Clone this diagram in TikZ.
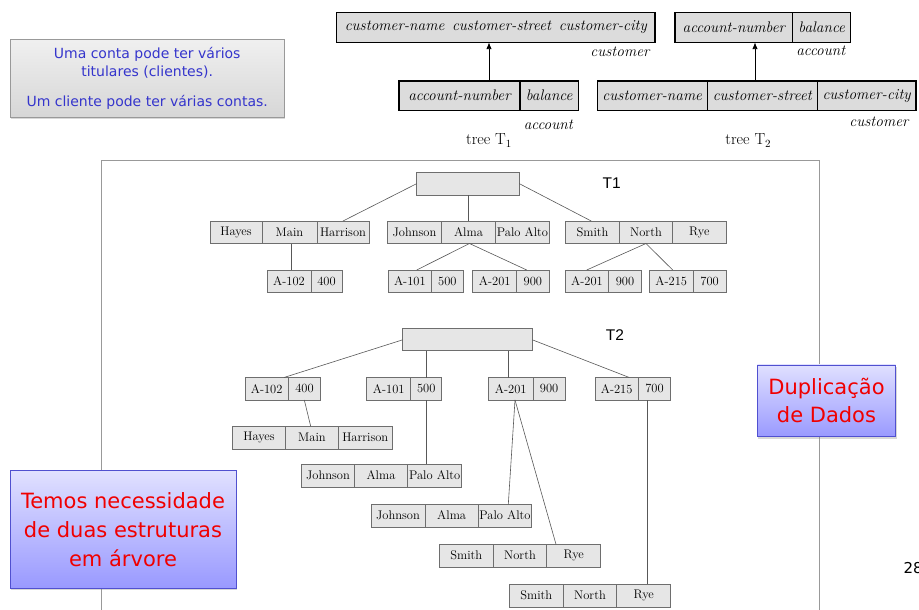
\documentclass[tikz,border=0pt]{standalone}
\usepackage{fontspec}
\newfontfamily\dvs{DejaVu Sans}
\newfontfamily\lsans{Liberation Sans}
\usetikzlibrary{shadows,arrows.meta,calc}
\definecolor{cellfill}{HTML}{E6E6E6}
\definecolor{cellline}{HTML}{6E6E6E}
\definecolor{schfill}{HTML}{DCDCDC}
\definecolor{edgecol}{HTML}{585858}
\definecolor{framecol}{HTML}{999999}
\definecolor{bluetxt}{HTML}{3535CC}
\definecolor{redtxt}{HTML}{F00000}
\definecolor{bluebord}{HTML}{5050D0}
\tikzset{
  tcell/.style={draw=cellline, fill=cellfill, line width=0.6pt, minimum height=22.5pt,
    inner sep=0pt, outer sep=0pt, font=\fontsize{12.5}{14}\selectfont},
  scell/.style={draw=black, fill=schfill, line width=1.1pt, minimum height=29.5pt,
    inner sep=0pt, outer sep=0pt, font=\fontsize{15.3}{18}\selectfont\itshape},
  slabel/.style={inner sep=0pt, font=\fontsize{15.3}{18}\selectfont\itshape},
  tlabel/.style={inner sep=0pt, font=\fontsize{16}{18}\selectfont},
  treelab/.style={inner sep=0pt, font=\lsans\fontsize{15.5}{18}\selectfont},
  tedge/.style={draw=edgecol, line width=0.6pt},
  schemaarrow/.style={line width=0.9pt, -{Latex[length=7pt,width=5.5pt]}},
  notebox/.style={draw=framecol, line width=0.8pt, top color=gray!12, bottom color=gray!32,
    drop shadow={opacity=0.3, shadow xshift=1pt, shadow yshift=-2pt},
    align=center, text=bluetxt, inner sep=0pt},
  alertbox/.style={draw=bluebord, line width=0.8pt, top color=blue!12, bottom color=blue!40,
    drop shadow={opacity=0.3, shadow xshift=1pt, shadow yshift=-2pt},
    align=center, text=redtxt, inner sep=0pt},
}
\newcommand\mkcells[5]{%
  \foreach [count=\i] \w/\txt in {#5} {
    \ifnum\i=1
      \node[#4, minimum width=\w pt, anchor=north west] (#1-\i) at (#2,#3) {\txt};
    \else
      \pgfmathtruncatemacro\j{\i-1}
      \node[#4, minimum width=\w pt, anchor=north west] (#1-\i) at (#1-\j.north east) {\txt};
    \fi
  }}
\begin{document}
\begin{tikzpicture}[x=1pt,y=-1pt]
\useasboundingbox (0,0) rectangle (919,610);
\fill[white] (0,0) rectangle (919,610);

% frame
\draw[framecol, line width=0.8pt] (101.7,620) -- (101.7,160.7) -- (819.3,160.7) -- (819.3,620);

% note box
\node[notebox, minimum width=274.3pt, minimum height=78pt,
  font=\dvs\fontsize{14}{18.3}\selectfont] (note) at (147.2,78.3)
  {Uma conta pode ter vários\\titulares (clientes).\\[11pt]Um cliente pode ter várias contas.};

% schema tree T1
\node[scell, minimum width=318.3pt, anchor=north west] (cust1) at (336.7,12.7)
  {customer-name\hspace{0.5em}customer-street\hspace{0.5em}customer-city};
\mkcells{acc1}{399}{81}{scell}{121/account-number,58.3/balance}
\draw[schemaarrow]
  ([xshift=90pt]acc1-1.north west) -- ([xshift=90pt]acc1-1.north west |- cust1.south);
\node[slabel] (lcust1) at (620,51.7) {customer};
\node[slabel] (lacc1) at (548.3,125) {account};
\node[tlabel] (tree1) at (489,140.5) {tree T$_1$};

% schema tree T2
\mkcells{acc2}{675}{12.7}{scell}{117.7/account-number,58/balance}
\mkcells{cust2}{597.3}{81}{scell}{110/customer-name,110/customer-street,98.7/customer-city}
\draw[schemaarrow]
  ([xshift=47.7pt]cust2-2.north west) -- ([xshift=47.7pt]cust2-2.north west |- acc2-1.south);
\node[slabel] (lacc2) at (820.8,50.7) {account};
\node[slabel] (lcust2) at (879,121.7) {customer};
\node[tlabel] (tree2) at (748.3,140.5) {tree T$_2$};

% ---------- T1 ----------
\node[tcell, minimum width=102.6pt, minimum height=22.7pt, anchor=north west] (r1) at (416.7,172.3) {};
\node[treelab] (t1lab) at (611.7,183.3) {T1};
\mkcells{h1}{210}{221}{tcell}{52/Hayes,55/Main,52/Harrison}
\mkcells{j1}{387.5}{221}{tcell}{54/Johnson,54/Alma,54/Palo Alto}
\mkcells{s1}{565.7}{221}{tcell}{53.6/Smith,53.4/North,53.3/Rye}
\mkcells{a1}{267}{270}{tcell}{44/A-102,31/400}
\mkcells{b1}{388}{270}{tcell}{43.7/A-101,31.3/500}
\mkcells{c1}{472.7}{270}{tcell}{44/A-201,32.3/900}
\mkcells{d1}{565.7}{270}{tcell}{42.6/A-201,33.4/900}
\mkcells{e1}{649.3}{270}{tcell}{44/A-215,32.7/700}

\draw[tedge] (r1.west) -- ([xshift=26pt]h1-3.north west);
\draw[tedge] (r1.south) -- (r1.south |- j1-2.north);
\draw[tedge] (r1.east) -- ([xshift=25.5pt]s1-1.north west);
\draw[tedge] ([xshift=29.7pt]h1-2.south west) -- ([xshift=29.7pt]h1-2.south west |- a1-1.north);
\draw[tedge] ([xshift=1pt]j1-2.south) -- ([xshift=28.7pt]b1-1.north west);
\draw[tedge] ([xshift=1pt]j1-2.south) -- ([xshift=10pt]c1-2.north west);
\draw[tedge] (s1-2.south) -- ([xshift=21pt]d1-1.north west);
\draw[tedge] (s1-2.south) -- ([xshift=23.4pt]e1-1.north west);

% ---------- T2 ----------
\node[tcell, minimum width=129.6pt, minimum height=22.4pt, anchor=north west] (r2) at (402.7,328.3) {};
\node[treelab] (t2lab) at (615,335) {T2};
\mkcells{a2}{245}{377.5}{tcell}{43.3/A-102,32.4/400}
\mkcells{b2}{366.7}{377.5}{tcell}{44/A-101,31/500}
\mkcells{c2}{488.3}{377.5}{tcell}{45/A-201,31.7/900}
\mkcells{d2}{595}{377.5}{tcell}{43.3/A-215,32.4/700}
\mkcells{hA}{232.3}{426.3}{tcell}{53.4/Hayes,52.6/Main,54/Harrison}
\mkcells{jA}{301.7}{464.3}{tcell}{52.6/Johnson,53.4/Alma,54/Palo Alto}
\mkcells{jB}{371}{504.3}{tcell}{54/Johnson,53.3/Alma,53.4/Palo Alto}
\mkcells{sA}{439.3}{544.3}{tcell}{54/Smith,53.4/North,54/Rye}
\mkcells{sB}{509.3}{584.3}{tcell}{54/Smith,53.4/North,54/Rye}

\draw[tedge] ([yshift=-0.3pt]r2.west) -- ([xshift=39pt]a2-1.north west);
\draw[tedge] ([xshift=15.5pt]b2-2.north west |- r2.south) -- ([xshift=15.5pt]b2-2.north west);
\draw[tedge] ([xshift=20pt]c2-1.north west |- r2.south) -- ([xshift=20pt]c2-1.north west);
\draw[tedge] ([yshift=-0.3pt]r2.east) -- ([xshift=34.3pt]d2-1.north west);
\draw[tedge] ([xshift=16pt]a2-2.south west) -- ([xshift=25pt]hA-2.north west);
\draw[tedge] ([xshift=15.5pt]b2-2.south west) -- ([xshift=15.5pt]b2-2.south west |- jA-3.north);
\draw[tedge] ([xshift=26.7pt]c2-1.south west) -- ([xshift=30pt]jB-3.north west);
\draw[tedge] ([xshift=26.7pt]c2-1.south west) -- ([xshift=9.3pt]sA-3.north west);
\draw[tedge] ([xshift=9pt]d2-2.south west) -- ([xshift=9pt]d2-2.south west |- sB-3.north);

% alert boxes
\node[alertbox, minimum width=226pt, minimum height=117.6pt,
  font=\dvs\fontsize{21}{29}\selectfont] (need) at (123,529.5)
  {Temos necessidade\\de duas estruturas\\em árvore};
\node[alertbox, minimum width=138.4pt, minimum height=71.7pt,
  font=\dvs\fontsize{21}{28.3}\selectfont] (dup) at (826.5,400.8)
  {Duplicação\\de Dados};

% page number
\node[anchor=west, inner sep=0pt, font=\dvs\fontsize{15}{18}\selectfont] (pg) at (903.5,568) {28};
\end{tikzpicture}
\end{document}
